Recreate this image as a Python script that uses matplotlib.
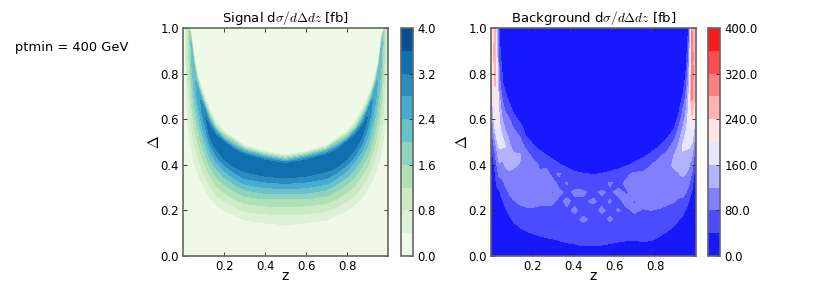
import numpy as np
import matplotlib
matplotlib.use("Agg")
import matplotlib.pyplot as plt

plt.rcParams["mathtext.fontset"] = "cm"

signal_levels = [0, .4, .8, 1.2, 1.6, 2.0, 2.4, 2.8, 3.2, 3.6, 4.0]
background_levels = [0, 40, 80, 120, 160, 200, 240, 280, 320, 360, 400]
signal_ticks = [0, .8, 1.6, 2.4, 3.2, 4.0]
background_ticks = [0, 80, 160, 240, 320, 400]
z_ticks = [.2, .4, .6, .8]
delta_ticks = [0, .2, .4, .6, .8, 1.0]

# signal: Delta at which each column crosses .4,.8,...,3.2 going up, the ridge, then 3.2,...,.4 coming down
crossing_levels = [.4, .8, 1.2, 1.6, 2.0, 2.4, 2.8, 3.2]
signal_z_left = [0, .01, .02, .03, .04, .055, .07, .09, .11, .13, .16, .2, .25, .3, .4, .5]
signal_z_right = [1.0, .995, .99, .98, .97, .955, .94, .92, .90, .875, .84, .8, .75, .7, .6, .5]
signal_peak = [.1, .35, 1.0, 1.45, 2.1, 2.3, 2.55, 2.85, 3.2, 3.35, 3.5, 3.55, 3.58, 3.58, 3.5, 3.5]
signal_ridge = [1, 1, 1, 1, .93, .80, .73, .67, .61, .55, .50, .46, .43, .41, .39, .375]
signal_lower = [
    [], [], [.62, .8], [.53, .66, .83], [.47, .57, .67, .77, .87], [.41, .49, .57, .64, .71],
    [.37, .44, .505, .565, .62, .68], [.325, .385, .44, .49, .54, .585, .64],
    [.29, .345, .39, .435, .48, .52, .56, .60], [.26, .31, .355, .395, .43, .465, .495, .525],
    [.225, .27, .31, .35, .385, .415, .44, .47], [.20, .24, .28, .315, .345, .375, .40, .425],
    [.18, .215, .25, .285, .315, .34, .365, .39], [.158, .195, .23, .262, .29, .315, .34, .37],
    [.145, .185, .22, .25, .275, .30, .325, .35], [.137, .18, .215, .25, .272, .295, .318, .342],
]
signal_upper = [
    [], [], [], [], [.98, .97, .96, .95, .94], [.87, .86, .85, .84, .83], [.80, .79, .78, .77, .76, .75],
    [.74, .73, .72, .71, .70, .69, .68], [.69, .68, .67, .66, .655, .645, .635, .61],
    [.645, .635, .625, .615, .605, .595, .585, .57], [.59, .58, .57, .56, .555, .55, .54, .53],
    [.545, .54, .533, .527, .52, .513, .507, .50], [.515, .51, .505, .50, .49, .483, .475, .465],
    [.485, .48, .475, .47, .465, .46, .452, .445], [.458, .454, .45, .445, .44, .435, .428, .42],
    [.444, .438, .433, .428, .423, .418, .412, .405],
]

# background: columns read upward at Delta = 0, .04, ... ; a column stops where it stays in the lowest band
background_delta = [i * .04 for i in range(26)]
background_z = [0, .01, .02, .03, .04, .055, .07, .09, .11, .14, .17, .2, .235, .27, .3, .33, .37, .41, .45, .5,
                .54, .58, .62, .66, .7, .74, .78, .82, .86, .89, .915, .935, .95, .965, .98, .99, 1.0]
background_columns = [
    [5,5,5,5,5,5,5,5,8,12,18,22,28,32,36,40,50,60,75,85,95,105,115,125,130,135],
    [5,5,5,5,6,7,9,12,18,24,32,42,60,85,110,135,155,175,190,205,215,225,235,235,230,225],
    [5,5,5,6,8,10,14,20,30,38,50,75,100,130,165,205,220,225,235,245,250,255,255,250,245,240],
    [5,5,5,7,10,13,20,30,48,65,85,110,135,170,205,215,215,210,195,175,165,160,150,140,130,120],
    [5,5,6,8,12,16,24,34,60,90,115,140,165,175,170,165,150,135,115,95,80,70,60,50,45,40],
    [5,5,6,10,15,25,36,55,72,90,110,130,165,165,140,120,100,80,60,45,38,25,15,10,8,6],
    [5,5,7,12,20,35,50,70,85,105,125,140,160,135,115,100,75,55,38,20,10,7],
    [5,6,8,16,32,50,68,85,100,115,130,145,125,115,100,80,60,35,15,8],
    [5,6,10,25,45,62,78,90,100,112,125,125,110,95,80,55,30,12,6],
    [5,7,18,38,55,72,85,88,98,105,118,125,100,82,60,30,10],
    [5,8,25,45,65,75,88,92,100,95,110,100,72,42,22,8],
    [5,10,30,50,68,78,85,95,88,100,92,75,50,25,10],
    [5,14,35,55,70,75,85,92,100,82,78,55,30,12],
    [5,18,40,58,72,78,82,90,84,92,72,42,18,7],
    [5,20,42,62,75,72,85,78,92,70,60,28,10],
    [5,22,48,65,70,78,74,88,72,84,45,15,6],
    [5,28,55,65,72,76,85,72,82,62,30,10],
    [5,33,55,68,72,84,74,86,68,48,18,6],
    [5,38,58,65,86,70,76,84,65,42,14],
    [5,38,58,66,72,70,84,72,60,38,10],
    [5,36,56,70,68,86,72,85,62,42,12],
    [5,32,54,66,85,72,82,74,84,50,15],
    [5,28,50,62,70,82,72,88,70,60,22,7],
    [5,24,48,62,72,75,88,76,86,72,35,12],
    [5,22,48,60,72,84,78,90,82,88,48,22,8],
    [5,25,50,60,70,78,88,85,92,84,66,32,10],
    [5,28,46,58,70,80,88,92,86,96,78,50,22,8],
    [5,20,38,52,66,78,88,96,92,88,98,72,40,15,6],
    [5,10,28,45,60,72,86,92,105,100,110,95,65,38,12,6],
    [5,8,18,36,52,68,82,95,105,112,125,118,100,65,35,15,6],
    [5,7,12,25,42,58,75,90,105,118,130,140,125,105,80,50,30,12,6],
    [5,6,10,18,32,52,72,92,110,125,140,155,165,145,120,105,80,52,30,12,8],
    [5,5,8,12,22,38,58,82,102,120,135,150,165,170,150,130,115,95,75,55,38,22,10,7],
    [5,5,6,9,15,24,40,62,88,108,125,145,165,185,190,185,170,165,150,135,120,105,90,75,55,38],
    [5,5,5,7,10,15,24,36,52,75,100,125,150,180,205,235,250,280,290,285,290,285,295,290,285,280],
    [5,5,5,5,7,10,14,20,30,42,60,85,110,135,165,200,225,245,265,270,280,275,270,265,255,250],
    [5,5,5,5,5,6,8,10,14,20,28,38,48,60,80,110,130,150,165,175,185,190,195,190,185,180],
]

TICK = 8.4
TEXT = 9.4
W, H = 830, 285
fig = plt.figure(figsize=(W / 100, H / 100), dpi=100)


def axes_px(x0, x1, y0, y1):
    return fig.add_axes([x0 / W, 1 - y1 / H, (x1 - x0) / W, (y1 - y0) / H])


def signal_column(peak, ridge, lower, upper):
    lo = list(lower) + [ridge] * (8 - len(lower))
    up = list(upper) + [ridge] * (8 - len(upper))
    deltas = [0.0] + lo + [ridge] + up[::-1] + [1.0]
    lev = [min(v, peak) for v in crossing_levels]
    vals = [0.05] + lev + [peak] + lev[::-1] + [0.05]
    return deltas, vals


def build_signal():
    cols = []
    n = len(signal_z_left)
    for i in range(n):
        cols.append((signal_z_left[i],) + signal_column(signal_peak[i], signal_ridge[i], signal_lower[i], signal_upper[i]))
    for i in range(n - 2, -1, -1):
        cols.append((signal_z_right[i],) + signal_column(signal_peak[i], signal_ridge[i], signal_lower[i], signal_upper[i]))
    zs = np.array([[c[0]] * len(c[1]) for c in cols]).T
    ds = np.array([c[1] for c in cols]).T
    vs = np.array([c[2] for c in cols]).T
    return zs, ds, vs


def style(ax, cax, cf, ticks, title):
    ax.set_xlim(0, 1)
    ax.set_ylim(0, 1)
    ax.set_xticks(z_ticks)
    ax.set_yticks(delta_ticks)
    ax.set_xticklabels([f"{v:.1f}" for v in z_ticks], fontsize=TICK)
    ax.set_yticklabels([f"{v:.1f}" for v in delta_ticks], fontsize=TICK)
    ax.tick_params(direction="in", top=True, right=True, length=3, width=0.6, pad=3, color="#222222")
    ax.set_xlabel("z", fontsize=TEXT + 0.6, labelpad=-3)
    ax.set_ylabel(r"$\Delta$", fontsize=TEXT + 1.6, labelpad=-1.5)
    ax.set_title(title, fontsize=TEXT + 0.1, pad=4)
    cb = fig.colorbar(cf, cax=cax, ticks=ticks)
    cb.ax.set_yticklabels([f"{float(v):.1f}" for v in ticks], fontsize=TICK)
    cb.ax.tick_params(direction="in", length=3, width=0.6, pad=3, color="#222222")
    for sp in ax.spines.values():
        sp.set_linewidth(1.2)
        sp.set_color("#666666")
    cb.outline.set_linewidth(1.2)
    cb.outline.set_edgecolor("#666666")


ax1 = axes_px(183, 388, 28, 256)
cax1 = axes_px(401, 413, 28, 256)
zs, ds, vs = build_signal()
cf1 = ax1.contourf(zs, ds, vs, levels=signal_levels, cmap="GnBu")
style(ax1, cax1, cf1, signal_ticks, r"Signal d$\sigma/d\Delta dz$ [fb]")

ax2 = axes_px(491, 696, 28, 256)
cax2 = axes_px(708, 720, 28, 256)
bg = np.array([c + [5] * (26 - len(c)) for c in background_columns], dtype=float).T
cf2 = ax2.contourf(background_z, background_delta, bg, levels=background_levels, cmap="bwr")
style(ax2, cax2, cf2, background_ticks, r"Background d$\sigma/d\Delta dz$ [fb]")

fig.text(15 / W, 1 - 47 / H, "ptmin = 400 GeV", fontsize=TEXT, ha="left", va="center")
fig.savefig("out.png", dpi=100)
